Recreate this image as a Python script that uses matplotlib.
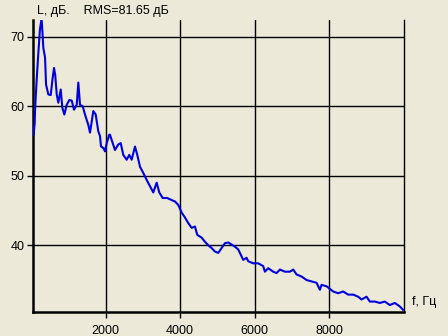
import numpy as np
import matplotlib
matplotlib.use('Agg')
import matplotlib.pyplot as plt

# spectrum (frequency in Hz, level in dB)
freq = [50, 70, 100, 110, 150, 190, 240, 284, 310, 332, 378, 405, 466, 530,
        580, 619, 650, 691, 734, 798, 841, 895, 959, 1029, 1093, 1155, 1227,
        1270, 1315, 1388, 1449, 1538, 1583, 1672, 1736, 1805, 1851, 1878, 1940,
        1985, 2031, 2100, 2119, 2191, 2253, 2341, 2406, 2475, 2566, 2636, 2700,
        2789, 2850, 2923, 3011, 3102, 3190, 3279, 3370, 3440, 3531, 3650, 3772,
        3860, 3949, 4040, 4128, 4216, 4308, 4396, 4458, 4575, 4664, 4752, 4843,
        4932, 5020, 5111, 5200, 5288, 5379, 5467, 5556, 5647, 5690, 5781, 5824,
        5958, 6092, 6226, 6271, 6360, 6493, 6585, 6675, 6807, 6941, 7031, 7120,
        7254, 7388, 7522, 7656, 7745, 7790, 7924, 8101, 8235, 8369, 8503, 8637,
        8771, 8862, 8996, 9084, 9218, 9352, 9486, 9620, 9754, 9888, 9976]
level = [56.9, 55.9, 57.5, 59.5, 63.5, 67.0, 71.0, 72.6, 70.5, 68.4, 67.0, 63.1,
         61.7, 61.6, 64.0, 65.5, 64.5, 61.7, 60.5, 62.4, 59.8, 58.8, 60.2, 60.9,
         60.8, 59.5, 60.2, 63.4, 60.2, 60.0, 58.8, 57.3, 56.2, 59.3, 58.8, 56.4,
         55.7, 54.2, 54.0, 53.5, 54.7, 55.9, 55.9, 54.7, 53.7, 54.5, 54.7, 53.0,
         52.3, 53.0, 52.3, 54.2, 53.0, 51.3, 50.4, 49.4, 48.5, 47.6, 49.0, 47.6,
         46.8, 46.8, 46.5, 46.3, 45.8, 44.7, 44.0, 43.2, 42.5, 42.7, 41.5, 41.1,
         40.5, 40.0, 39.6, 39.1, 38.9, 39.6, 40.3, 40.4, 40.1, 39.8, 39.4, 38.4,
         37.9, 38.2, 37.7, 37.4, 37.4, 37.0, 36.2, 36.7, 36.2, 36.0, 36.5, 36.2,
         36.2, 36.5, 35.8, 35.5, 35.0, 34.8, 34.6, 33.6, 34.3, 34.1, 33.35, 33.1,
         33.35, 32.9, 32.9, 32.6, 32.2, 32.6, 31.9, 31.9, 31.7, 31.9, 31.4, 31.7,
         31.2, 30.7]

xticks = [2000, 4000, 6000, 8000]
yticks = [40, 50, 60, 70]

bg = '#ece9d8'
plt.rcParams['font.family'] = ['Liberation Sans', 'DejaVu Sans']

fig = plt.figure(figsize=(4.48, 3.36), dpi=100, facecolor=bg)
ax = fig.add_axes([33 / 448, 24 / 336, 371 / 448, 292 / 336], facecolor=bg)

ax.plot(freq, level, color='#0000e0', lw=1.5, zorder=3)

ax.set_xlim(55, 10000)
ax.set_ylim(30.4, 72.4)
ax.set_xticks(xticks)
ax.set_yticks(yticks)
ax.grid(True, color='black', lw=1.0)

for s in ['left', 'bottom']:
    ax.spines[s].set_linewidth(1.8)
ax.spines['right'].set_linewidth(1.0)
ax.spines['top'].set_visible(False)
ax.tick_params(direction='out', length=4, width=1, colors='black',
               labelsize=9, pad=2)
ax.tick_params(axis='x', pad=5)

fig.text(37 / 448, 1 - 11 / 336, 'L, дБ.    RMS=81.65 дБ', fontsize=9,
         va='center', ha='left')
fig.text(412 / 448, 1 - 302 / 336, 'f, Гц', fontsize=9, va='center', ha='left')

fig.savefig('out.png', dpi=100, facecolor=bg)
